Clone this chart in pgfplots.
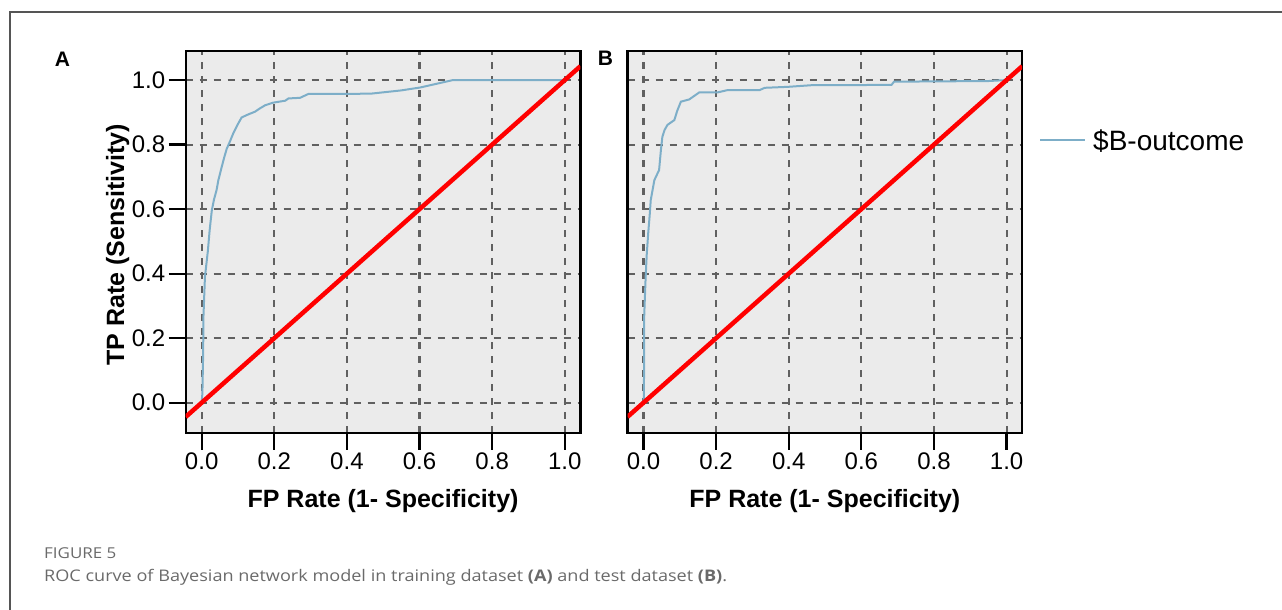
\documentclass[border=0pt]{standalone}
\usepackage{fontspec}
\setmainfont{Liberation Sans}
\newfontfamily\capfont[FakeStretch=1.13]{Open Sans}
\usepackage{pgfplots}
\pgfplotsset{compat=1.18}
\definecolor{bgc}{HTML}{EBEBEB}
\definecolor{roc}{RGB}{125,174,200}
\definecolor{gridc}{HTML}{606060}
\definecolor{capc}{HTML}{6A6A6A}
\definecolor{framec}{HTML}{555555}

\pgfplotsset{rocax/.style={
  scale only axis, width=394.7pt, height=382pt,
  xmin=-0.044, xmax=1.043, ymin=-0.093, ymax=1.091,
  xtick={0,0.2,0.4,0.6,0.8,1}, ytick={0,0.2,0.4,0.6,0.8,1},
  tick align=outside, tick pos=left, major tick length=17pt,
  tick style={black, line width=2.2pt},
  axis line style={black, line width=2.3pt},
  axis background/.style={fill=bgc},
  grid=major,
  major grid style={gridc, line width=2.1pt, dash pattern=on 7pt off 7pt},
  ticklabel style={font=\fontsize{24}{24}\selectfont},
  /pgf/number format/fixed, /pgf/number format/fixed zerofill,
  /pgf/number format/precision=1, /pgf/number format/assume math mode=true,
  xlabel style={font=\bfseries\fontsize{25}{25}\selectfont,
    at={([yshift=-74.3pt]axis description cs:0.5,0)}, anchor=base},
  ylabel style={font=\bfseries\fontsize{25}{25}\selectfont,
    at={([xshift=-61.7pt,yshift=-3pt]axis description cs:0,0.5)}, anchor=base},
  xlabel={FP Rate (1- Specificity)},
}}

\begin{document}
\begin{tikzpicture}[x=1pt,y=1pt]
\path[use as bounding box] (0,0) rectangle (1282,-610);
\draw[framec, line width=1.2pt] (10,-610) -- (10,-12) -- (1282,-12);

\begin{axis}[rocax, at={(185.7pt,-50.7pt)}, anchor=north west,
  ylabel={TP Rate (Sensitivity)}]
\addplot[roc, line width=2pt] coordinates {
(0,0) (0.002,0.03) (0.004,0.15) (0.005,0.27) (0.007,0.33) (0.009,0.39)
(0.013,0.43) (0.017,0.47) (0.022,0.535) (0.028,0.597) (0.034,0.63)
(0.041,0.659) (0.046,0.69) (0.055,0.73) (0.062,0.76) (0.069,0.787)
(0.078,0.81) (0.087,0.835) (0.098,0.86) (0.110,0.884) (0.125,0.892)
(0.147,0.902) (0.160,0.912) (0.175,0.922) (0.197,0.930) (0.230,0.936)
(0.239,0.943) (0.271,0.945) (0.294,0.957) (0.395,0.957) (0.467,0.958)
(0.55,0.968) (0.602,0.977) (0.692,1.0) (1.0,1.0)};
\addplot[red, line width=4.5pt] coordinates {(-0.044,-0.044) (1.043,1.043)};
\end{axis}

\begin{axis}[rocax, at={(627.5pt,-50.7pt)}, anchor=north west,
  yticklabels={}, ytick style={draw=none},
  legend style={at={(axis description cs:1.0426,0.765)}, anchor=west,
    draw=none, fill=none, inner sep=0pt, column sep=7pt,
    font=\fontsize{28}{28}\selectfont, nodes={inner sep=0pt}},
  legend image code/.code={\draw[#1] (0pt,0pt) -- (45pt,0pt);}]
\addplot[roc, line width=2pt] coordinates {
(0,0) (0.001,0.02) (0.002,0.15) (0.002,0.267) (0.004,0.33) (0.006,0.39)
(0.009,0.46) (0.013,0.525) (0.017,0.58) (0.02,0.628) (0.03,0.69)
(0.043,0.721) (0.048,0.783) (0.052,0.824) (0.058,0.845) (0.066,0.861)
(0.085,0.876) (0.093,0.905) (0.103,0.933) (0.126,0.940) (0.154,0.962)
(0.205,0.962) (0.232,0.969) (0.320,0.969) (0.334,0.976) (0.398,0.979)
(0.462,0.984) (0.683,0.985) (0.69,0.995) (0.95,0.997) (1.0,1.0)};
\addlegendentry{\$B-outcome}
\addplot[red, line width=4.5pt, forget plot] coordinates {(-0.044,-0.044) (1.043,1.043)};
\end{axis}

\node[font=\bfseries\fontsize{21}{21}\selectfont, inner sep=0pt] at (62.5,-59) {A};
\node[font=\bfseries\fontsize{21}{21}\selectfont, inner sep=0pt] at (605.5,-58.5) {B};

\node[anchor=base west, inner sep=0pt, font=\capfont\fontsize{15}{15}\selectfont, text=capc]
  at (44,-558.5) {FIGURE 5};
\node[anchor=base west, inner sep=0pt, font=\capfont\fontsize{16}{16}\selectfont, text=capc]
  at (44,-581.5) {ROC curve of Bayesian network model in training dataset \textbf{(A)} and test dataset \textbf{(B)}.};
\end{tikzpicture}
\end{document}
